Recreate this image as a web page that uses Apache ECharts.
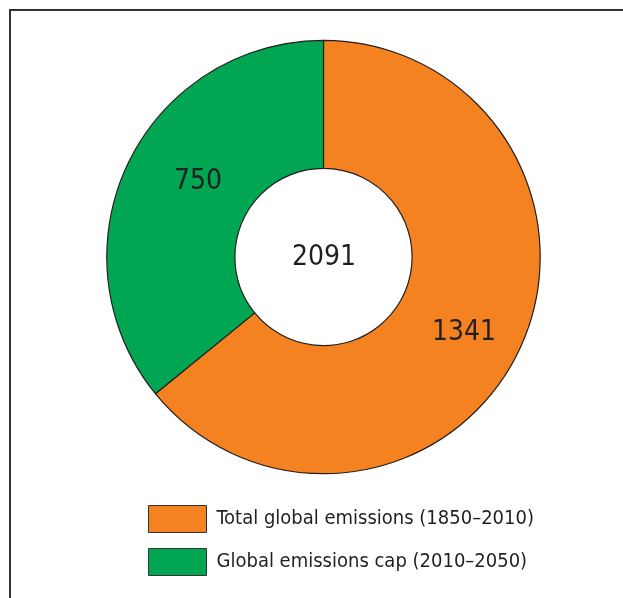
<!DOCTYPE html>
<html><head><meta charset="utf-8">
<script src="https://cdn.jsdelivr.net/npm/echarts@6/dist/echarts.min.js"></script>
<style>html,body{margin:0;padding:0;background:#fff}#c{width:623px;height:598px}</style>
</head><body><div id="c"></div>
<script>
var categories = ['Total global emissions (1850–2010)', 'Global emissions cap (2010–2050)'];
var values = [1341, 750];
var colors = ['#F58220', '#00A651'];
var total = values.reduce(function(a,b){return a+b;}, 0);

var labelOffsets = [[0, 9], [15, -8]];
var FONT = '"DejaVu Sans Condensed", "Liberation Sans Narrow", sans-serif';
var chart = echarts.init(document.getElementById('c'), null, {renderer:'canvas'});
chart.setOption({
  animation: false,
  legend: {
    orient: 'vertical', left: 143, top: 500,
    itemWidth: 58, itemHeight: 27, itemGap: 15,
    icon: 'rect',
    itemStyle: {borderColor: '#333', borderWidth: 1},
    textStyle: {fontFamily: FONT, fontSize: 20, color: '#231F20', padding: [0,0,0,5]},
    data: categories
  },
  graphic: [
    {type: 'rect', shape: {x: 10, y: 10, width: 800, height: 800}, style: {fill: 'none', stroke: '#333', lineWidth: 2}},
    {type: 'text', x: 324, y: 258, style: {text: String(total), fontFamily: FONT, fontSize: 28, fill: '#231F20', align: 'center', verticalAlign: 'middle'}, z: 100}
  ],
  series: [{
    type: 'pie',
    center: [323.5, 257],
    radius: [88.6, 216.7],
    startAngle: 90,
    clockwise: true,
    avoidLabelOverlap: false,
    emphasis: {disabled: true},
    itemStyle: {borderColor: '#231F20', borderWidth: 1.2},
    label: {show: true, position: 'inside', fontFamily: FONT, fontSize: 28, color: '#231F20', formatter: '{c}'},
    labelLine: {show: false},
    data: categories.map(function(n, i){
      return {name: n, value: values[i], itemStyle: {color: colors[i]}, label: {offset: labelOffsets[i]}};
    })
  }]
});
</script></body></html>
